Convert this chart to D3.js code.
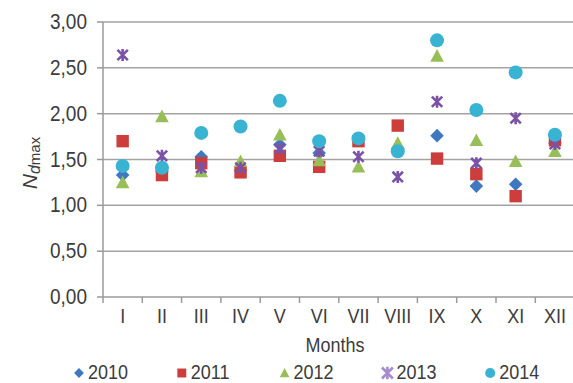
<!DOCTYPE html>
<html>
<head>
<meta charset="utf-8">
<script src="https://cdn.jsdelivr.net/npm/d3@7"></script>
<style>
  html, body { margin: 0; padding: 0; background: #fff; }
  svg { display: block; }
  text { font-family: "Liberation Sans", Arial, sans-serif; fill: #3c3c3c; }
</style>
</head>
<body>
<svg id="chart" width="573" height="383"></svg>
<script>
// Monthly N_dmax values per year
const months = ["I", "II", "III", "IV", "V", "VI", "VII", "VIII", "IX", "X", "XI", "XII"];
const years = ["2010", "2011", "2012", "2013", "2014"];
const v2010 = [1.33, 1.37, 1.53, 1.38, 1.66, 1.57, 1.71, 1.62, 1.76, 1.21, 1.23, 1.68];
const v2011 = [1.70, 1.33, 1.46, 1.36, 1.54, 1.42, 1.70, 1.87, 1.51, 1.34, 1.10, 1.71];
const v2012 = [1.25, 1.97, 1.37, 1.48, 1.77, 1.49, 1.42, 1.68, 2.63, 1.71, 1.48, 1.59];
const v2013 = [2.64, 1.54, 1.41, 1.41, 1.62, 1.59, 1.53, 1.31, 2.13, 1.46, 1.95, 1.67];
const v2014 = [1.43, 1.41, 1.79, 1.86, 2.14, 1.70, 1.73, 1.59, 2.80, 2.04, 2.45, 1.77];
const yTicks = [0, 0.5, 1, 1.5, 2, 2.5, 3];

const seriesValues = [v2010, v2011, v2012, v2013, v2014];
const colors = ["#3f78c0", "#cc3d3b", "#98bf57", "#7b52a5", "#39b3d2"];
const shapes = ["diamond", "square", "triangle", "star", "circle"];

const svg = d3.select("#chart");
const W = 573;
const plotLeft = 103, plotTop = 22, plotBottom = 297;
const band = 39.3;

const x = d3.scaleBand().domain(months).range([plotLeft, plotLeft + band * 12]).padding(0);
const y = d3.scaleLinear().domain([0, 3]).range([plotBottom, plotTop]);

const fmt = v => v.toFixed(2).replace(".", ",");

// text helper with a slight vertical stretch
function label(g, tx, ty, str, anchor, size) {
  return g.append("text")
    .attr("transform", `translate(${tx},${ty}) scale(1,1.13)`)
    .attr("text-anchor", anchor)
    .style("font-size", size + "px")
    .text(str);
}

// gridlines
const grid = svg.append("g");
grid.selectAll("line").data(yTicks.filter(t => t > 0)).join("line")
  .attr("x1", plotLeft).attr("x2", W)
  .attr("y1", d => y(d)).attr("y2", d => y(d))
  .attr("stroke", "#a3a3a3").attr("stroke-width", 1.5);

// axes
const axisColor = "#9a9a9a";
svg.append("line").attr("x1", plotLeft).attr("x2", plotLeft).attr("y1", y(3)).attr("y2", y(0))
  .attr("stroke", axisColor).attr("stroke-width", 1.5);
svg.append("line").attr("x1", plotLeft).attr("x2", W).attr("y1", y(0)).attr("y2", y(0))
  .attr("stroke", axisColor).attr("stroke-width", 1.5);
svg.append("g").selectAll("line").data(yTicks).join("line")
  .attr("x1", plotLeft - 6).attr("x2", plotLeft)
  .attr("y1", d => y(d)).attr("y2", d => y(d))
  .attr("stroke", axisColor).attr("stroke-width", 1.5);
svg.append("g").selectAll("line").data(d3.range(13)).join("line")
  .attr("x1", i => plotLeft + band * i).attr("x2", i => plotLeft + band * i)
  .attr("y1", y(0)).attr("y2", y(0) + 6)
  .attr("stroke", axisColor).attr("stroke-width", 1.5);

// y tick labels
const yl = svg.append("g");
yTicks.forEach(t => label(yl, 87, y(t) + 7, fmt(t), "end", 19));

// x tick labels
const xl = svg.append("g");
months.forEach(m => label(xl, x(m) + x.bandwidth() / 2, 323, m, "middle", 18));

// axis titles
label(svg, 335, 352, "Months", "middle", 18);
const yt = svg.append("text")
  .attr("transform", "translate(37,163) rotate(-90)")
  .attr("text-anchor", "middle");
yt.append("tspan").style("font-style", "italic").style("font-size", "21px").text("N");
yt.append("tspan").style("font-style", "italic").style("font-size", "16px").attr("dy", 3).text("d");
yt.append("tspan").style("font-size", "15px").text("max");

// marker drawing
function marker(g, shape, color, cx, cy, s) {
  if (shape === "diamond") {
    const r = 6.8 * s;
    g.append("path").attr("d", `M${cx},${cy - r}L${cx + r},${cy}L${cx},${cy + r}L${cx - r},${cy}Z`).attr("fill", color);
  } else if (shape === "square") {
    const h = 6.2 * s;
    g.append("rect").attr("x", cx - h).attr("y", cy - h).attr("width", 2 * h).attr("height", 2 * h).attr("fill", color);
  } else if (shape === "triangle") {
    const h = 6.8 * s;
    g.append("path").attr("d", `M${cx},${cy - h}L${cx + h},${cy + h * 0.85}L${cx - h},${cy + h * 0.85}Z`).attr("fill", color);
  } else if (shape === "circle") {
    g.append("circle").attr("cx", cx).attr("cy", cy).attr("r", 7 * s).attr("fill", color);
  } else if (shape === "star") {
    const h = 5.2 * s;
    const sw = s < 1 ? 1.3 : 2.6;
    g.append("path")
      .attr("d", `M${cx - h},${cy - h}L${cx + h},${cy + h}M${cx + h},${cy - h}L${cx - h},${cy + h}M${cx},${cy - h * 1.15}L${cx},${cy + h * 1.15}`)
      .attr("stroke", color).attr("stroke-width", sw).attr("fill", "none");
  }
}

// data points, one layer per year
seriesValues.forEach((vals, si) => {
  const g = svg.append("g").attr("class", "series-" + years[si]);
  vals.forEach((v, i) => {
    marker(g, shapes[si], colors[si], x(months[i]) + x.bandwidth() / 2, y(v), 1);
  });
});

// legend
const lg = svg.append("g");
years.forEach((yr, i) => {
  const cx = 79 + i * 102.8;
  const s = shapes[i] === "star" ? 1.05 : 0.72;
  const col = shapes[i] === "star" ? "#a58bd0" : colors[i];
  marker(lg, shapes[i], col, cx, 373, s);
  label(lg, cx + 9, 379, yr, "start", 18);
});
</script>
</body>
</html>
